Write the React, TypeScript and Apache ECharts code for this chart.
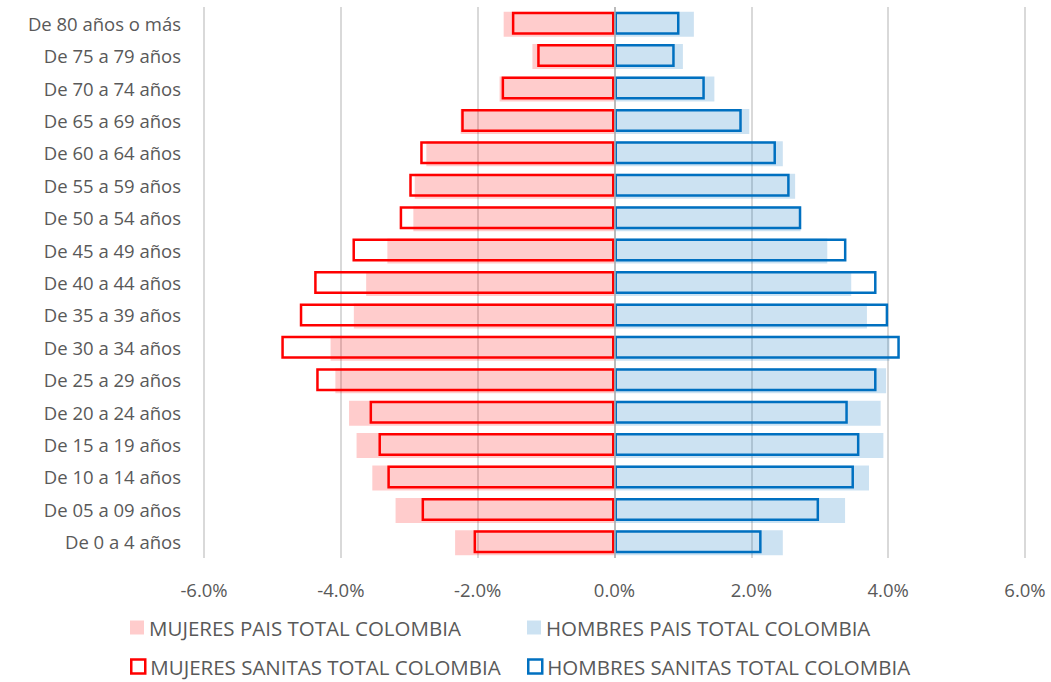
import React, { useEffect, useRef } from "react";
import * as echarts from "echarts";

const categories = [
  "De 0 a 4 años",
  "De 05 a 09 años",
  "De 10 a 14 años",
  "De 15 a 19 años",
  "De 20 a 24 años",
  "De 25 a 29 años",
  "De 30 a 34 años",
  "De 35 a 39 años",
  "De 40 a 44 años",
  "De 45 a 49 años",
  "De 50 a 54 años",
  "De 55 a 59 años",
  "De 60 a 64 años",
  "De 65 a 69 años",
  "De 70 a 74 años",
  "De 75 a 79 años",
  "De 80 años o más",
];

const mujeresPais = [-2.33, -3.2, -3.54, -3.77, -3.88, -4.08, -4.15, -3.81, -3.63, -3.32, -2.94, -2.92, -2.75, -2.25, -1.68, -1.2, -1.62];
const hombresPais = [2.46, 3.37, 3.72, 3.93, 3.89, 3.97, 4.02, 3.69, 3.46, 3.11, 2.72, 2.64, 2.46, 1.97, 1.46, 1.0, 1.16];
const mujeresSanitas = [-2.06, -2.82, -3.32, -3.45, -3.58, -4.36, -4.87, -4.6, -4.39, -3.83, -3.14, -3.0, -2.84, -2.24, -1.65, -1.13, -1.5];
const hombresSanitas = [2.15, 2.99, 3.5, 3.58, 3.41, 3.83, 4.17, 4.0, 3.83, 3.39, 2.73, 2.56, 2.36, 1.86, 1.32, 0.88, 0.95];

const xTicks = { min: -6, max: 6, interval: 2 };

const names = [
  "MUJERES PAIS TOTAL COLOMBIA",
  "HOMBRES PAIS TOTAL COLOMBIA",
  "MUJERES SANITAS TOTAL COLOMBIA",
  "HOMBRES SANITAS TOTAL COLOMBIA",
];

const FONT = "'Open Sans', sans-serif";
const TEXT = "#595959";
const PINK = "rgba(255,0,0,0.2)";
const LBLUE = "rgba(0,112,192,0.2)";
const RED = "#FF0000";
const BLUE = "#0070C0";

export default function App() {
  const ref = useRef<HTMLDivElement>(null);
  useEffect(() => {
    document.body.style.margin = "0";
    const chart = echarts.init(ref.current!, null, { renderer: "svg" });
    const legendBase = {
      orient: "horizontal",
      padding: 0,
      itemWidth: 14,
      itemHeight: 14,
      icon: "rect",
      textStyle: { color: TEXT, fontSize: 20.5, lineHeight: 20, fontFamily: FONT },
    };
    chart.setOption({
      animation: false,
      grid: { left: 204, right: 26, top: 7, bottom: 124 },
      xAxis: {
        type: "value",
        min: xTicks.min,
        max: xTicks.max,
        interval: xTicks.interval,
        axisLine: { show: false },
        axisTick: { show: false },
        splitLine: { show: true, lineStyle: { color: "#d9d9d9", width: 2 } },
        axisLabel: {
          color: TEXT,
          fontSize: 18.5,
          fontFamily: FONT,
          margin: 22,
          formatter: (v: number) => v.toFixed(1) + "%",
        },
      },
      yAxis: {
        type: "category",
        data: categories,
        axisLine: { show: false, onZero: false },
        axisTick: { show: false },
        axisLabel: { color: TEXT, fontSize: 18.5, fontFamily: FONT, margin: 23 },
      },
      legend: [
        { ...legendBase, left: 130, top: 617, data: [names[0]] },
        { ...legendBase, left: 527, top: 617, data: [names[1]] },
        {
          ...legendBase,
          left: 130,
          top: 656,
          data: [{ name: names[2], itemStyle: { color: "#fff", borderColor: RED, borderWidth: 2.5 } }],
        },
        {
          ...legendBase,
          left: 527,
          top: 656,
          data: [{ name: names[3], itemStyle: { color: "#fff", borderColor: BLUE, borderWidth: 2.5 } }],
        },
      ],
      series: [
        {
          name: names[0],
          type: "bar",
          data: mujeresPais,
          barWidth: 25,
          barGap: "-100%",
          itemStyle: { color: PINK },
        },
        {
          name: names[1],
          type: "bar",
          data: hombresPais,
          barWidth: 25,
          barGap: "-100%",
          itemStyle: { color: LBLUE },
          markLine: {
            silent: true,
            symbol: "none",
            label: { show: false },
            lineStyle: { color: "#b0b0b0", width: 1.5, type: "solid" },
            data: [{ xAxis: 0 }],
          },
        },
        {
          name: names[2],
          type: "bar",
          data: mujeresSanitas,
          barWidth: 23,
          barGap: "-100%",
          itemStyle: { color: "rgba(0,0,0,0)", borderColor: RED, borderWidth: 2.5 },
        },
        {
          name: names[3],
          type: "bar",
          data: hombresSanitas,
          barWidth: 23,
          barGap: "-100%",
          itemStyle: { color: "rgba(0,0,0,0)", borderColor: BLUE, borderWidth: 2.5 },
        },
      ],
    });
    return () => chart.dispose();
  }, []);
  return <div ref={ref} style={{ width: 1051, height: 682 }} />;
}
